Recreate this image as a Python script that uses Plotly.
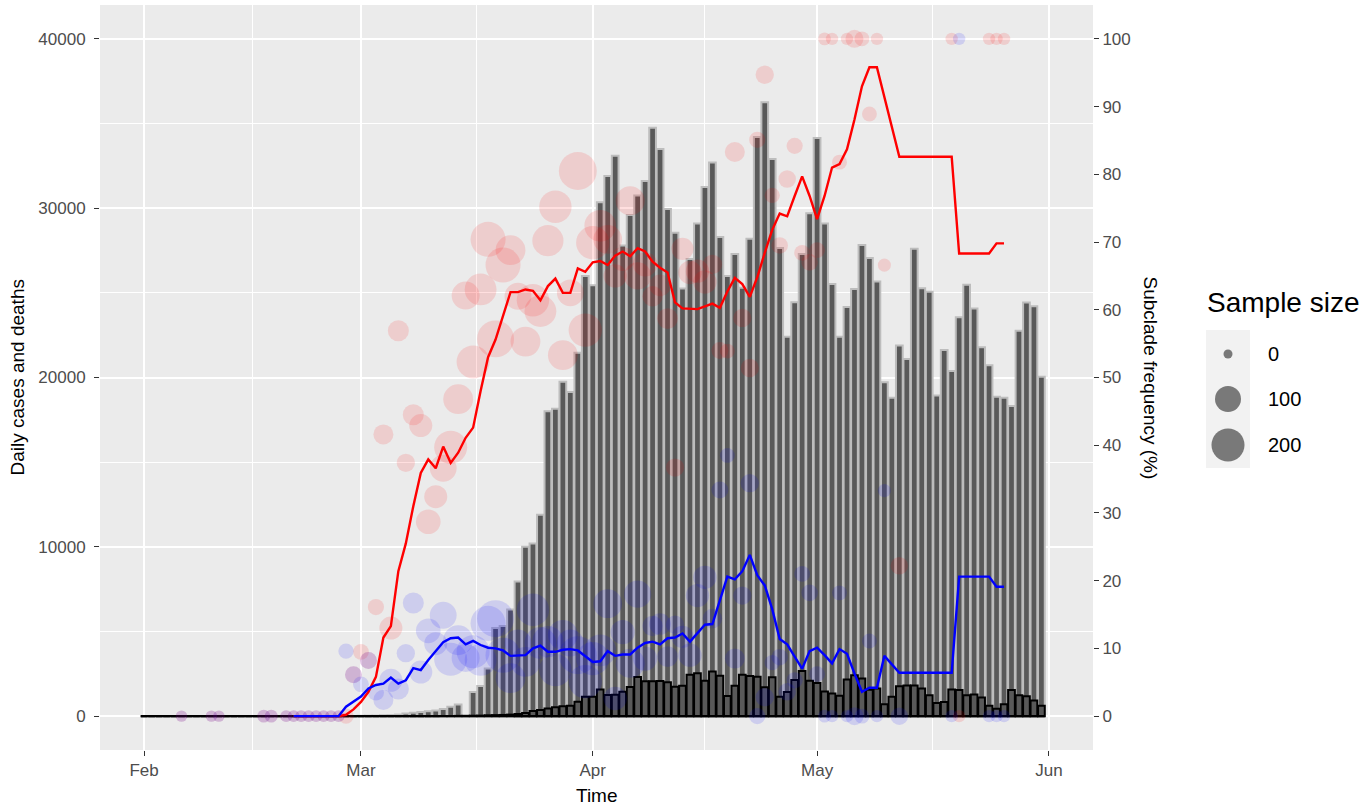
import pandas as pd
import numpy as np
import plotly.graph_objects as go

# ---------------- data ----------------
START = pd.Timestamp("2020-02-01")

# daily counts, one value per day from Feb 1 (day 0) to May 31 (day 120)
cases = [0] * 29 + [
    20, 25, 30, 50, 60, 90, 150, 200, 250, 290,
    330, 420, 560, 690, 0, 1420, 1780, 2820, 5200, 5320,
    6300, 7950, 10000, 10200, 11900, 18000, 18150, 19750, 19150, 21460,
    25990, 25450, 30350, 31900, 33100, 27800, 29600, 30750, 31600, 34750,
    33500, 29950, 28550, 25250, 27000, 29100, 31250, 32700, 28300, 26000,
    27300, 25300, 28200, 34200, 36250, 32900, 27650, 22400, 24450, 27300,
    29700, 34150, 29100, 25520, 22400, 24160, 25220, 27830, 27060, 25670,
    19720, 18800, 21890, 21090, 27600, 25270, 25060, 18930, 21630, 20380,
    23560, 25480, 24080, 21780, 20730, 18870, 18800, 18320, 22760, 24430,
    24210, 20040]
deaths = [0] * 40 + [
    10, 10, 15, 20, 25, 30, 50, 60, 70, 90,
    120, 180, 300, 360, 450, 530, 580, 610, 850, 1150,
    1150, 1570, 1250, 1260, 1440, 1720, 2310, 2060, 2060, 2070,
    2000, 1740, 1800, 2440, 2540, 2090, 2630, 2390, 1190, 1800,
    2440, 2370, 2330, 1700, 2290, 1140, 1420, 2130, 2670, 2090,
    1950, 1460, 1330, 1200, 2160, 2420, 2230, 1560, 1630, 700,
    1150, 1760, 1810, 1810, 1630, 1230, 780, 830, 1570, 1550,
    1230, 1280, 1100, 620, 440, 700, 1550, 1230, 1180, 920,
    620]
count_days = list(range(len(cases)))

# sequenced samples per day: day offset, sample size, subclade frequencies (%)
sample_days = [5, 9, 10, 16, 17, 19, 20, 21, 22, 23, 24, 25, 26,
               27, 28, 29, 30, 31, 32, 33, 34, 35, 36, 37, 38, 39, 40,
               41, 42, 43, 44, 45, 46, 47, 48, 49, 50, 51, 52, 53, 54,
               55, 56, 57, 58, 59, 60, 61, 62, 63, 64, 65, 66, 67, 68,
               69, 70, 71, 72, 73, 74, 75, 76, 77, 78, 79, 80, 81, 82,
               83, 84, 85, 86, 87, 88, 89, 90, 91, 92, 93, 94, 95, 96,
               97, 98, 99, 101, 108, 109, 113, 114, 115]
sample_n = [2, 2, 2, 5, 5, 3, 3, 3, 3, 3, 3, 3, 3,
            14, 22, 16, 22, 18, 42, 68, 50, 30, 50, 68, 85, 68, 110,
            200, 150, 125, 200, 180, 235, 270, 235, 150, 110, 150, 190, 180, 170,
            190, 150, 110, 290, 205, 205, 178, 135, 71, 80, 140, 115, 80, 45,
            55, 48, 30, 60, 71, 71, 71, 38, 22, 12, 42, 30, 30, 18,
            30, 14, 20, 25, 18, 16, 20, 16, 5, 4, 12, 4, 28, 12,
            12, 4, 6, 25, 4, 4, 4, 4, 4]
red_freq = [0, 0, 0, 0, 0, 0, 0, 0, 0, 0, 0, 0, 0,
            0, 6.1, 9.5, 8.2, 16.1, 41.6, 13.0, 56.9, 37.4, 44.5, 42.9, 28.7, 32.4, 36.6,
            39.7, 46.8, 62.1, 52.3, 63.0, 70.4, 55.7, 66.6, 68.8, 62.0, 55.3, 61.4, 59.8, 70.2,
            75.2, 53.3, 62.5, 80.5, 57.0, 69.9, 72.4, 70.4, 65.0, 67.5, 76.1, 65.0, 66.7, 62.0,
            63.6, 58.7, 36.7, 69.0, 65.5, 65.7, 64.1, 66.7, 54.0, 53.9, 83.3, 58.8, 51.4, 85.1,
            94.7, 76.9, 69.5, 79.3, 84.2, 68.4, 67.0, 68.8, 100, 100, 81.8, 100, 100, 100,
            88.9, 100, 66.6, 22.2, 100, 0, 100, 100, 100]
blue_freq = [0, 0, 0, 0, 0, 0, 0, 0, 0, 0, 0, 0, 0,
             9.6, 6.1, 4.7, 8.2, 3.5, 2.4, 5.3, 4.0, 9.3, 16.7, 6.5, 12.6, 10.7, 14.9,
             8.4, 11.2, 8.6, 9.5, 8.3, 13.7, 14.4, 9.0, 5.6, 10.8, 8.0, 15.7, 10.8, 11.0,
             6.8, 12.0, 10.8, 9.0, 5.1, 8.5, 9.7, 16.6, 2.6, 12.4, 7.8, 18.0, 8.5, 13.3,
             13.6, 8.8, 13.5, 11.7, 9.0, 17.8, 20.5, 14.4, 33.4, 38.5, 8.5, 17.8, 34.4, 0,
             2.8, 7.9, 8.7, 3.6, 5.3, 21.0, 18.2, 6.2, 0, 0, 18.2, 0, 0, 0,
             11.1, 0, 33.3, 0, 0, 100, 0, 0, 0]

# smoothed subclade frequency trends (%)
red_line_days = list(range(20, 99)) + [101, 108, 109, 113, 114, 115]
red_line = [0, 0, 0, 0, 0, 0, 0,
            0.2, 1.0, 2.1, 3.6, 5.8, 11.6, 13.3, 21.4, 25.5, 31.0, 35.9, 37.9, 36.6,
            39.8, 37.4, 38.9, 41.1, 42.6, 48.0, 53.0, 55.6, 59.1, 62.6, 62.6, 63.0,
            62.8, 61.4, 63.5, 64.6, 62.5, 62.5, 66.1, 65.6, 67.0, 67.2, 66.6, 68.0,
            68.6, 67.9, 69.1, 68.6, 67.1, 66.2, 65.5, 61.1, 60.2, 60.2, 60.1, 60.5,
            60.9, 60.3, 62.7, 64.7, 63.8, 61.9, 64.8, 68.4, 71.8, 74.2, 73.8, 76.8,
            79.7, 76.8, 73.4, 76.8, 81.0, 81.5, 83.7, 88.1, 93.0, 95.8, 95.8,
            82.6, 82.6, 68.3, 68.3, 69.8, 69.8]
blue_line_days = list(range(20, 100)) + [101, 108, 109, 113, 114, 115]
blue_line = [0, 0, 0, 0, 0, 0, 0,
             1.4, 2.1, 2.9, 4.1, 4.6, 4.8, 5.7, 4.8, 5.3, 7.1, 6.8, 8.3, 9.6,
             10.9, 11.5, 11.6, 10.6, 11.1, 10.5, 10.1, 10.0, 9.7, 8.9, 8.9, 9.0,
             10.0, 10.4, 9.5, 9.5, 9.8, 9.9, 9.7, 8.8, 8.0, 8.1, 9.6, 8.9,
             9.1, 9.1, 10.1, 10.8, 11.0, 10.6, 11.5, 11.6, 12.2, 11.0, 12.2, 13.5,
             13.6, 17.2, 20.6, 20.2, 21.4, 23.8, 20.8, 19.3, 15.8, 11.4, 10.6, 8.8,
             7.0, 9.6, 10.1, 9.0, 7.8, 9.9, 9.2, 6.3, 3.6, 4.2, 4.2, 8.9,
             6.4, 6.4, 20.6, 20.6, 19.1, 19.1]

legend_values = [0, 100, 200]
month_ticks = ["2020-02-01", "2020-03-01", "2020-04-01", "2020-05-01", "2020-06-01"]
month_labels = ["Feb", "Mar", "Apr", "May", "Jun"]
left_ticks = [0, 10000, 20000, 30000, 40000]
right_ticks = list(range(0, 101, 10))

# ---------------- helpers ----------------
def to_dates(days):
    return [START + pd.Timedelta(days=int(d)) for d in days]

def dot_size(n):
    return 9 + 1.7 * np.sqrt(np.asarray(n, dtype=float))

DAY_MS = 86400000
FONT = "Liberation Sans, Arial, Helvetica, sans-serif"
TICK_COL = "#4D4D4D"

# plot area in pixels
W, H = 1368, 805
L, R, T, B = 100, 1093, 5, 750

def px(x):
    return (x - L) / (R - L)

def py(y):
    return (B - y) / (B - T)

count_dates = to_dates(count_days)
sample_dates = to_dates(sample_days)

fig = go.Figure()

fig.add_trace(go.Bar(
    x=count_dates, y=cases, width=0.9 * DAY_MS,
    marker=dict(color="#595959", line=dict(color="#BDBDBD", width=2)),
    yaxis="y", name="cases"))
fig.add_trace(go.Bar(
    x=count_dates, y=deaths, width=0.9 * DAY_MS,
    marker=dict(color="#595959", line=dict(color="black", width=2)),
    yaxis="y", name="deaths"))
# zero-height bar outlines along the baseline
half = pd.Timedelta(hours=0.45 * 24)
fig.add_trace(go.Scatter(
    x=[count_dates[0] - half, count_dates[-1] + half], y=[0, 0],
    mode="lines", line=dict(color="black", width=2.2), yaxis="y",
    hoverinfo="skip"))

sizes = dot_size(sample_n)
fig.add_trace(go.Scatter(
    x=sample_dates, y=red_freq, mode="markers", yaxis="y2",
    marker=dict(size=sizes, color="rgba(255,0,0,0.18)", line=dict(width=0)),
    name="red samples"))
fig.add_trace(go.Scatter(
    x=sample_dates, y=blue_freq, mode="markers", yaxis="y2",
    marker=dict(size=sizes, color="rgba(0,0,255,0.18)", line=dict(width=0)),
    name="blue samples"))
fig.add_trace(go.Scatter(
    x=to_dates(red_line_days), y=red_line, mode="lines", yaxis="y2",
    line=dict(color="#FF0000", width=2.4), name="red trend"))
fig.add_trace(go.Scatter(
    x=to_dates(blue_line_days), y=blue_line, mode="lines", yaxis="y2",
    line=dict(color="#0000FF", width=2.4), name="blue trend"))

x_lo = START - pd.Timedelta(days=5.9)
x_hi = START + pd.Timedelta(days=126.9)
minor_x = ["2020-02-15 12:00", "2020-03-16 12:00", "2020-04-16", "2020-05-16 12:00"]

axis_common = dict(ticks="outside", ticklen=5, tickwidth=1.1, tickcolor="#333333",
                   showline=False, zeroline=False,
                   tickfont=dict(size=17, color=TICK_COL, family=FONT))

fig.update_layout(
    width=W, height=H,
    margin=dict(l=L, r=W - R, t=T, b=H - B),
    paper_bgcolor="white", plot_bgcolor="#EBEBEB",
    barmode="overlay", showlegend=False,
    font=dict(family=FONT),
    xaxis=dict(type="date", range=[x_lo, x_hi], tickmode="array",
               tickvals=month_ticks, ticktext=month_labels,
               showgrid=True, gridcolor="white", gridwidth=1.6,
               minor=dict(tickvals=minor_x, showgrid=True, gridcolor="white",
                          gridwidth=0.8, ticks=""),
               **axis_common),
    yaxis=dict(range=[-2000, 42000], tickmode="array", tickvals=left_ticks,
               ticktext=[str(v) for v in left_ticks],
               showgrid=True, gridcolor="white", gridwidth=1.6,
               ticklabelstandoff=5,
               minor=dict(tickvals=[5000, 15000, 25000, 35000], showgrid=True,
                          gridcolor="white", gridwidth=0.8, ticks=""),
               **axis_common),
    yaxis2=dict(range=[-5, 105], overlaying="y", side="right", tickmode="array",
                tickvals=right_ticks, ticktext=[str(v) for v in right_ticks],
                showgrid=False, **axis_common),
)

annotations = [
    dict(text="Time", x=0.5, y=py(795), xref="paper", yref="paper",
         showarrow=False, font=dict(size=19, color="black", family=FONT),
         xanchor="center", yanchor="middle"),
    dict(text="Daily cases and deaths", x=px(17), y=0.5, xref="paper", yref="paper",
         showarrow=False, textangle=-90, font=dict(size=19, color="black", family=FONT),
         xanchor="center", yanchor="middle"),
    dict(text="Subclade frequency (%)", x=px(1150), y=0.5, xref="paper", yref="paper",
         showarrow=False, textangle=90, font=dict(size=19, color="black", family=FONT),
         xanchor="center", yanchor="middle"),
    dict(text="Sample size", x=px(1205), y=py(302), xref="paper", yref="paper",
         showarrow=False, font=dict(size=28, color="black", family=FONT),
         xanchor="left", yanchor="middle"),
]

# size legend
key_y = [354, 399, 445]
fig.add_shape(type="rect", xref="paper", yref="paper",
              x0=px(1206), x1=px(1250), y0=py(468), y1=py(330),
              fillcolor="#F2F2F2", line=dict(width=0), layer="below")
for v, yy in zip(legend_values, key_y):
    d = float(dot_size([v])[0])
    fig.add_shape(type="circle", xref="paper", yref="paper",
                  xsizemode="pixel", ysizemode="pixel",
                  xanchor=px(1228), yanchor=py(yy),
                  x0=-d / 2, x1=d / 2, y0=-d / 2, y1=d / 2,
                  fillcolor="rgba(0,0,0,0.5)", line=dict(width=0))
    annotations.append(dict(text=str(v), x=px(1266), y=py(yy), xref="paper", yref="paper",
                            showarrow=False, font=dict(size=20, color="black", family=FONT),
                            xanchor="left", yanchor="middle"))

fig.update_layout(annotations=annotations)

fig.write_html("out.html", config={"displayModeBar": False},
               post_script="document.body.style.margin='0';")
